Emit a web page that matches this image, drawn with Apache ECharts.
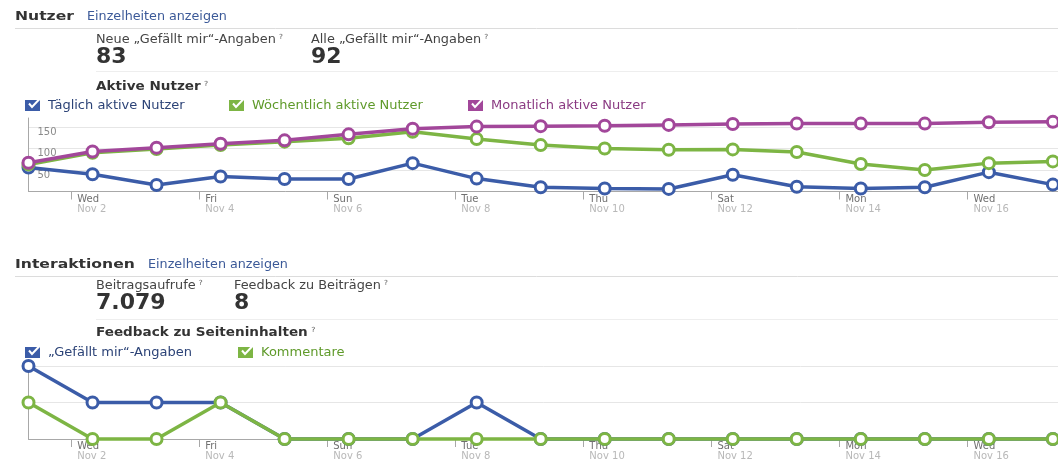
<!DOCTYPE html>
<html>
<head>
<meta charset="utf-8">
<script src="https://cdn.jsdelivr.net/npm/echarts@6/dist/echarts.min.js"></script>
<style>
  html, body { margin: 0; padding: 0; background: #fff; }
  #chart { width: 1058px; height: 463px; }
</style>
</head>
<body>
<div id="chart"></div>
<script>
// ---------- data ----------
const days = ['2011-11-01','2011-11-02','2011-11-03','2011-11-04','2011-11-05','2011-11-06','2011-11-07','2011-11-08','2011-11-09','2011-11-10','2011-11-11','2011-11-12','2011-11-13','2011-11-14','2011-11-15','2011-11-16','2011-11-17'];
const tickDays = ['2011-11-02','2011-11-04','2011-11-06','2011-11-08','2011-11-10','2011-11-12','2011-11-14','2011-11-16'];
const tickWeekdays = ['Wed','Fri','Sun','Tue','Thu','Sat','Mon','Wed'];
const tickDates = ['Nov 2','Nov 4','Nov 6','Nov 8','Nov 10','Nov 12','Nov 14','Nov 16'];
const yTicksTop = [0, 50, 100, 150];

const dailyActive   = [56, 40, 15, 35, 29, 29, 66, 30, 10, 7, 6, 39, 11, 7, 10, 45, 16];
const weeklyActive  = [63, 90, 99, 108, 116, 124, 139, 122, 108, 100, 97, 98, 92, 64, 50, 66, 70];
const monthlyActive = [67, 93, 102, 111, 119, 133, 146, 151, 152, 153, 155, 157, 158, 158, 158, 161, 162];

const likes    = [2, 1, 1, 1, 0, 0, 0, 1, 0, 0, 0, 0, 0, 0, 0, 0, 0];
const comments = [1, 0, 0, 1, 0, 0, 0, 0, 0, 0, 0, 0, 0, 0, 0, 0, 0];

const nutzerKpiLabels = ['Neue „Gefällt mir“-Angaben', 'Alle „Gefällt mir“-Angaben'];
const nutzerKpiValues = ['83', '92'];
const interKpiLabels = ['Beitragsaufrufe', 'Feedback zu Beiträgen'];
const interKpiValues = ['7.079', '8'];

const namesTop = ['Täglich aktive Nutzer', 'Wöchentlich aktive Nutzer', 'Monatlich aktive Nutzer'];
const namesBottom = ['„Gefällt mir“-Angaben', 'Kommentare'];

// ---------- helpers ----------
const BLUE = '#3b5ca8', GREEN = '#7db544', PURPLE = '#a2479a';
const FONT = '"DejaVu Sans", Verdana, sans-serif';
const HOUR = 3600 * 1000, DAY = 24 * HOUR;
const SAMPLE_OFFSET = 8 * HOUR; // daily values are stamped at 08:00
const xs = days.map(d => Date.parse(d + 'T00:00:00Z') + SAMPLE_OFFSET);
const tickXs = tickDays.map(d => Date.parse(d + 'T00:00:00Z'));
const xMin = xs[0], xMax = xs[xs.length - 1] + 0.08 * DAY;

function pairs(vals) { return vals.map((v, i) => [xs[i], v]); }

function xAxisFor(gridIndex, margin) {
  return {
    type: 'value', gridIndex, min: xMin, max: xMax,
    axisLine: { show: true, lineStyle: { color: '#a8a8a8', width: 1 } },
    axisTick: { show: true, customValues: tickXs, length: 8, lineStyle: { color: '#a8a8a8' } },
    splitLine: { show: false },
    axisLabel: {
      show: true, customValues: tickXs, align: 'left', margin: margin,
      formatter: function (v) {
        const k = tickXs.indexOf(v);
        if (k < 0) return '';
        return '{d|' + tickWeekdays[k] + '}\n{n|' + tickDates[k] + '}';
      },
      rich: {
        d: { color: '#707070', fontSize: 10, lineHeight: 10, fontFamily: FONT, padding: [0, 0, 0, 6] },
        n: { color: '#b8b8b8', fontSize: 10, lineHeight: 10, fontFamily: FONT, padding: [0, 0, 0, 6] }
      }
    }
  };
}

function lineSeries(name, vals, color, xi, z) {
  return {
    name, type: 'line', xAxisIndex: xi, yAxisIndex: xi, data: pairs(vals),
    color: color, z: z, clip: false,
    symbol: 'circle', symbolSize: 11, showAllSymbol: true,
    lineStyle: { color: color, width: 3.5 },
    itemStyle: { color: '#fff', borderColor: color, borderWidth: 3 },
    emphasis: { disabled: true }, animation: false
  };
}

function legendFor(name, color, textColor, left, top) {
  return {
    data: [{ name, itemStyle: { color: color, borderWidth: 0 }, textStyle: { color: textColor } }],
    left: left, top: top, padding: 0, icon: 'rect', itemWidth: 15, itemHeight: 11,
    selectedMode: false,
    textStyle: { fontSize: 13, fontFamily: FONT, padding: [0, 0, 0, 3] }
  };
}

function label(text, x, y, opts) {
  const o = opts || {};
  const q = o.q ? '{s|?}' : '';
  return {
    type: 'text', x: x, y: y, silent: true, scaleX: o.sx || 1,
    style: {
      text: '{t|' + text + '}' + q,
      verticalAlign: 'middle',
      rich: {
        t: { fontSize: o.size || 12, fontWeight: o.bold ? 'bold' : 'normal', fill: o.color || '#444', fontFamily: FONT },
        s: { fontSize: 7, fill: '#555', fontFamily: FONT, verticalAlign: 'top', padding: [0, 0, 0, 3] }
      }
    }
  };
}

function hline(x1, x2, y, color) {
  return { type: 'line', silent: true, shape: { x1: x1, y1: y, x2: x2, y2: y }, style: { stroke: color, lineWidth: 1 } };
}

function check(x, y) {
  return { type: 'polyline', silent: true, z: 200, shape: { points: [[x + 4, y + 4], [x + 7, y + 7.5], [x + 15, y - 1]] },
           style: { stroke: '#fff', lineWidth: 2, fill: null } };
}

const H = { bold: true, size: 13, color: '#333', sx: 1.2 };   // section headings
const L = { sx: 1.07, q: true };                               // kpi labels
const N = { bold: true, size: 22, color: '#333' };             // kpi numbers
const S = { bold: true, size: 12, color: '#333', sx: 1.13, q: true }; // sub headings
const A = { color: '#3b5998', sx: 1.06 };                      // links

const graphics = [
  label('Nutzer', 15, 17, H),
  label('Einzelheiten anzeigen', 87, 17, A),
  hline(15, 1058, 28.5, '#dcdcdc'),
  label(nutzerKpiLabels[0], 96, 40, L),
  label(nutzerKpiValues[0], 96, 57, N),
  label(nutzerKpiLabels[1], 311, 40, L),
  label(nutzerKpiValues[1], 311, 57, N),
  hline(96, 1058, 71.5, '#eeeeee'),
  label('Aktive Nutzer', 96, 87, S),

  label('Interaktionen', 15, 265, H),
  label('Einzelheiten anzeigen', 148, 265, A),
  hline(15, 1058, 276.5, '#dcdcdc'),
  label(interKpiLabels[0], 96, 286, L),
  label(interKpiValues[0], 96, 303, N),
  label(interKpiLabels[1], 234, 286, L),
  label(interKpiValues[1], 234, 303, N),
  hline(96, 1058, 319.5, '#eeeeee'),
  label('Feedback zu Seiteninhalten', 96, 333, S),

  check(25, 99.5), check(229, 99.5), check(468, 99.5),
  check(25, 346.5), check(238, 346.5)
];

const chart = echarts.init(document.getElementById('chart'), null, { renderer: 'canvas' });
chart.setOption({
  animation: false,
  backgroundColor: '#fff',
  textStyle: { fontFamily: FONT },
  grid: [
    { left: 28.5, right: 0, top: 118, height: 73.5 },
    { left: 28.5, right: 0, top: 366, height: 73 }
  ],
  xAxis: [xAxisFor(0, 3), xAxisFor(1, 2)],
  yAxis: [
    {
      type: 'value', gridIndex: 0, min: 0, max: 171,
      axisLine: { show: true, lineStyle: { color: '#a8a8a8' } },
      axisTick: { show: false, customValues: yTicksTop },
      splitLine: { show: true, lineStyle: { color: '#e6e6e6' } },
      axisLabel: {
        show: true, inside: true, customValues: yTicksTop, margin: 9,
        verticalAlign: 'top', color: '#8a8a8a', fontSize: 10, fontFamily: FONT,
        formatter: v => (v === 0 ? '' : String(v))
      }
    },
    {
      type: 'value', gridIndex: 1, min: 0, max: 2, interval: 1,
      axisLine: { show: true, lineStyle: { color: '#a8a8a8' } },
      axisTick: { show: false },
      splitLine: { show: true, lineStyle: { color: '#e6e6e6' } },
      axisLabel: { show: false }
    }
  ],
  legend: [
    legendFor(namesTop[0], BLUE, '#2c4377', 25, 99),
    legendFor(namesTop[1], GREEN, '#5f9a2a', 229, 99),
    legendFor(namesTop[2], PURPLE, '#8a3a82', 468, 99),
    legendFor(namesBottom[0], BLUE, '#2c4377', 25, 346),
    legendFor(namesBottom[1], GREEN, '#5f9a2a', 238, 346)
  ],
  series: [
    lineSeries(namesTop[0], dailyActive, BLUE, 0, 2),
    lineSeries(namesTop[1], weeklyActive, GREEN, 0, 3),
    lineSeries(namesTop[2], monthlyActive, PURPLE, 0, 4),
    lineSeries(namesBottom[0], likes, BLUE, 1, 2),
    lineSeries(namesBottom[1], comments, GREEN, 1, 3)
  ],
  graphic: graphics
});
</script>
</body>
</html>
